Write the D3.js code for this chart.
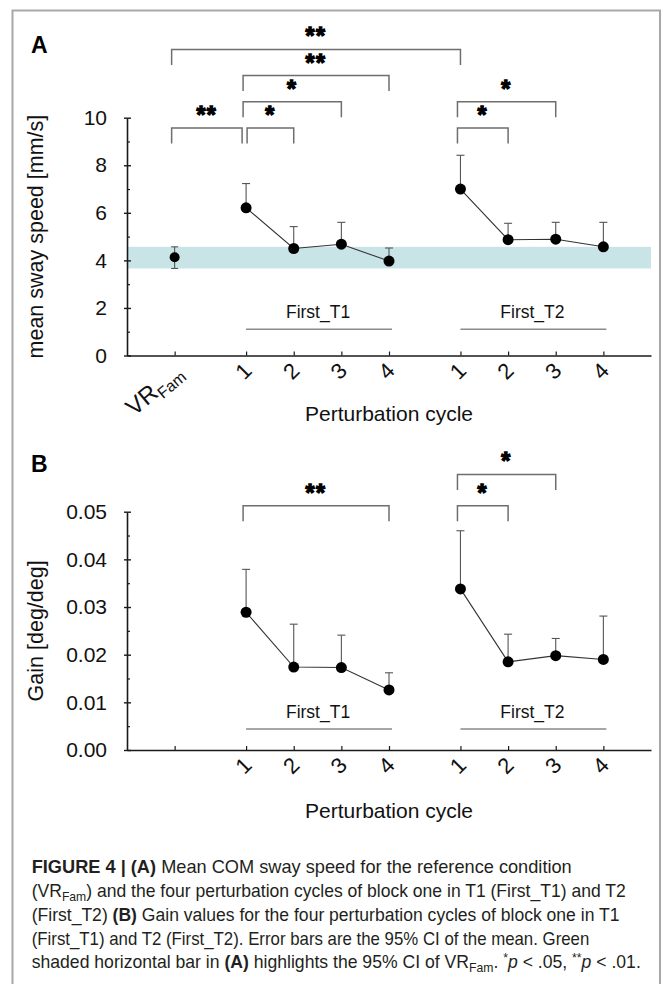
<!DOCTYPE html>
<html>
<head>
<meta charset="utf-8">
<script src="https://cdn.jsdelivr.net/npm/d3@7"></script>
<style>
  html, body { margin: 0; padding: 0; background: #fff; }
  svg { display: block; }
  text { font-family: "Liberation Sans", Arial, Helvetica, sans-serif; }
</style>
</head>
<body>
<svg id="fig" width="663" height="984"></svg>
<script>
// ---------------- DATA ----------------
const groups = ["First_T1", "First_T2"];
const cycleLabels = ["1", "2", "3", "4"];

// Panel A: mean sway speed [mm/s]
const vrFamMean = 4.13;
const vrFamCI = [3.66, 4.57];
const speedT1 = [6.21, 4.50, 4.68, 3.97];
const speedT1Upper = [7.23, 5.42, 5.60, 4.52];
const speedT2 = [7.00, 4.87, 4.89, 4.57];
const speedT2Upper = [8.42, 5.56, 5.60, 5.60];
const speedTicks = [0, 2, 4, 6, 8, 10];
const speedMinorTicks = [1, 3, 5, 7, 9];

// Panel B: gain [deg/deg]
const gainT1 = [0.0289, 0.0174, 0.0173, 0.0126];
const gainT1Upper = [0.0379, 0.0264, 0.0241, 0.0162];
const gainT2 = [0.0338, 0.0185, 0.0198, 0.0190];
const gainT2Upper = [0.0460, 0.0243, 0.0234, 0.0281];
const gainTicks = [0, 0.01, 0.02, 0.03, 0.04, 0.05];
const gainMinorTicks = [0.005, 0.015, 0.025, 0.035, 0.045];

// Significance brackets (tier = stacking level)
const sigA = [
  { a: "VR", b: "T1-1", tier: 0, label: "**", padR: 4 },
  { a: "T1-1", b: "T1-2", tier: 0, label: "*", padL: 4 },
  { a: "T1-1", b: "T1-3", tier: 1, label: "*" },
  { a: "T1-1", b: "T1-4", tier: 2, label: "**" },
  { a: "VR", b: "T2-1", tier: 3, label: "**" },
  { a: "T2-1", b: "T2-2", tier: 0, label: "*" },
  { a: "T2-1", b: "T2-3", tier: 1, label: "*" }
];
const sigB = [
  { a: "T1-1", b: "T1-4", tier: 0, label: "**" },
  { a: "T2-1", b: "T2-2", tier: 0, label: "*" },
  { a: "T2-1", b: "T2-3", tier: 1, label: "*" }
];

const captionLines = [
  [["FIGURE 4 | (A)", "b"], [" Mean COM sway speed for the reference condition"]],
  [["(VR"], ["Fam", "sub"], [") and the four perturbation cycles of block one in T1 (First_T1) and T2"]],
  [["(First_T2) "], ["(B)", "b"], [" Gain values for the four perturbation cycles of block one in T1"]],
  [["(First_T1) and T2 (First_T2). Error bars are the 95% CI of the mean. Green"]],
  [["shaded horizontal bar in "], ["(A)", "b"], [" highlights the 95% CI of VR"], ["Fam", "sub"], [". "],
   ["*", "sup"], ["p", "i"], [" < .05, "], ["**", "sup"], ["p", "i"], [" < .01."]]
];

// ---------------- LAYOUT ----------------
const svg = d3.select("#fig");

// slot positions for categories: VR at 1, each group separated by 1.5 units
const slot = { VR: 1 };
let s = 1;
groups.forEach((g, gi) => {
  cycleLabels.forEach((c, i) => {
    s += (i === 0 ? 1.5 : 1);
    slot[`T${gi + 1}-${c}`] = s;
  });
});
const slotMax = s + 1;

const x = d3.scaleLinear().domain([0, slotMax]).range([127, 651]);
const yA = d3.scaleLinear().domain([0, 10]).range([355.5, 117.7]);
const yB = d3.scaleLinear().domain([0, 0.05]).range([750, 511.7]);

// Border
svg.append("path")
  .attr("d", "M12.5,984 L12.5,10.5 L660,10.5 L660,984")
  .attr("fill", "none").attr("stroke", "#a8a8a8").attr("stroke-width", 2);

// Panel letters
svg.append("text").attr("x", 31).attr("y", 53).attr("font-size", 23).attr("font-weight", "bold").text("A");
svg.append("text").attr("x", 31).attr("y", 472).attr("font-size", 23).attr("font-weight", "bold").text("B");

function drawAxes(g, y, ticks, minor, fmt, title, titleY) {
  const axL = g.append("g").attr("transform", `translate(${x(0)},0)`)
    .call(d3.axisLeft(y).tickValues(ticks).tickSize(3).tickSizeOuter(0).tickPadding(17).tickFormat(fmt));
  axL.select(".domain").attr("stroke", "#1a1a1a").attr("stroke-width", 1.6);
  axL.selectAll(".tick line").attr("stroke", "#1a1a1a").attr("stroke-width", 1.4);
  axL.selectAll(".tick text").attr("font-size", 21).attr("fill", "#111")
    .attr("font-family", '"Liberation Sans", Arial, sans-serif');
  const axI = g.append("g").attr("transform", `translate(${x(0)},0)`)
    .call(d3.axisLeft(y).tickValues(ticks).tickSize(-4).tickSizeOuter(0).tickFormat(""));
  axI.select(".domain").remove();
  axI.selectAll(".tick line").attr("stroke", "#1a1a1a").attr("stroke-width", 1.4);
  const axM = g.append("g").attr("transform", `translate(${x(0)},0)`)
    .call(d3.axisLeft(y).tickValues(minor).tickSize(-3).tickSizeOuter(0).tickFormat(""));
  axM.select(".domain").remove();
  axM.selectAll(".tick line").attr("stroke", "#1a1a1a").attr("stroke-width", 1.2);

  const slots = Object.values(slot);
  const axX = g.append("g").attr("transform", `translate(0,${y(0)})`)
    .call(d3.axisBottom(x).tickValues(slots).tickSize(-4).tickSizeOuter(0).tickFormat(""));
  axX.select(".domain").attr("stroke", "#1a1a1a").attr("stroke-width", 1.6);
  axX.selectAll(".tick line").attr("stroke", "#1a1a1a").attr("stroke-width", 1.2);

  g.append("text")
    .attr("transform", `translate(43,${(y.range()[0] + y.range()[1]) / 2}) rotate(-90)`)
    .attr("text-anchor", "middle").attr("font-size", 21.5).attr("fill", "#111")
    .text(title);
  g.append("text").attr("x", 389).attr("y", titleY)
    .attr("text-anchor", "middle").attr("font-size", 21).attr("fill", "#111")
    .text("Perturbation cycle");
}

function drawCycleLabels(g, y, includeVR) {
  const keys = Object.keys(slot).filter(k => k !== "VR");
  keys.forEach(k => {
    const lab = k.split("-")[1];
    g.append("text")
      .attr("transform", `translate(${x(slot[k]) + 1.5},${y(0) + 11}) rotate(-45)`)
      .attr("text-anchor", "end").attr("dy", "0.36em")
      .attr("font-size", 22).attr("fill", "#111").text(lab);
  });
  if (includeVR) {
    const t = g.append("text")
      .attr("transform", `translate(${x(slot.VR) + 6},${y(0) + 15}) rotate(-40)`)
      .attr("text-anchor", "end").attr("dy", "0.35em").attr("fill", "#111");
    t.append("tspan").attr("font-size", 24).text("VR");
    t.append("tspan").attr("font-size", 16).attr("dy", 5).text("Fam");
  }
}

function drawGroupLines(g, y, lineV, labelOffset) {
  groups.forEach((grp, gi) => {
    const x1 = x(slot[`T${gi + 1}-1`]), x2 = x(slot[`T${gi + 1}-4`]) + 3;
    g.append("line").attr("x1", x1).attr("x2", x2).attr("y1", y(lineV)).attr("y2", y(lineV))
      .attr("stroke", "#8a8a8a").attr("stroke-width", 1.5);
    g.append("text").attr("x", (x1 + x2) / 2 - 1).attr("y", y(lineV) - labelOffset)
      .attr("text-anchor", "middle").attr("font-size", 17.5).attr("fill", "#111").text(grp);
  });
}

function drawSeries(g, y, vals, upper, gi) {
  const pts = vals.map((v, i) => ({ k: `T${gi}-${i + 1}`, v, u: upper[i] }));
  pts.forEach(p => {
    const xx = x(slot[p.k]);
    g.append("line").attr("x1", xx).attr("x2", xx).attr("y1", y(p.v)).attr("y2", y(p.u))
      .attr("stroke", "#555").attr("stroke-width", 1.1);
    g.append("line").attr("x1", xx - 4).attr("x2", xx + 4).attr("y1", y(p.u)).attr("y2", y(p.u))
      .attr("stroke", "#555").attr("stroke-width", 1.1);
  });
  g.append("path").datum(pts)
    .attr("d", d3.line().x(p => x(slot[p.k])).y(p => y(p.v)))
    .attr("fill", "none").attr("stroke", "#333").attr("stroke-width", 1.1);
  g.selectAll(null).data(pts).enter().append("circle")
    .attr("cx", p => x(slot[p.k])).attr("cy", p => y(p.v)).attr("r", 5.5).attr("fill", "#000");
}

function drawBrackets(g, list, baseY, step, leg) {
  list.forEach(b => {
    const x1 = x(slot[b.a]) - 3 + (b.padL || 0);
    const x2 = x(slot[b.b]) + (b.padR ? -b.padR : 0);
    const yy = baseY - b.tier * step;
    g.append("path")
      .attr("d", `M${x1},${yy + leg} L${x1},${yy} L${x2},${yy} L${x2},${yy + leg}`)
      .attr("fill", "none").attr("stroke", "#6e6e6e").attr("stroke-width", 1.5);
    g.append("text").attr("x", (x1 + x2) / 2).attr("y", yy - 5)
      .attr("text-anchor", "middle").attr("font-size", 23).attr("font-weight", "bold")
      .attr("letter-spacing", 1.5)
      .attr("fill", "#000").attr("stroke", "#000").attr("stroke-width", 1.3)
      .attr("stroke-linejoin", "miter")
      .text(b.label);
  });
}

// ---------------- PANEL A ----------------
const gA = svg.append("g");
gA.append("rect").attr("x", x(0)).attr("width", x(slotMax) - x(0))
  .attr("y", yA(vrFamCI[1])).attr("height", yA(vrFamCI[0]) - yA(vrFamCI[1]))
  .attr("fill", "#c8e4e6");
drawAxes(gA, yA, speedTicks, speedMinorTicks, d3.format("d"), "mean sway speed [mm/s]", 420.5);
drawCycleLabels(gA, yA, true);
drawGroupLines(gA, yA, 1.1, 11);
{
  const xx = x(slot.VR);
  gA.append("line").attr("x1", xx).attr("x2", xx).attr("y1", yA(vrFamCI[0])).attr("y2", yA(vrFamCI[1]))
    .attr("stroke", "#555").attr("stroke-width", 1.1);
  vrFamCI.forEach(v => gA.append("line").attr("x1", xx - 3.5).attr("x2", xx + 3.5)
    .attr("y1", yA(v)).attr("y2", yA(v)).attr("stroke", "#555").attr("stroke-width", 1.1));
  gA.append("circle").attr("cx", xx).attr("cy", yA(vrFamMean)).attr("r", 5).attr("fill", "#000");
}
drawSeries(gA, yA, speedT1, speedT1Upper, 1);
drawSeries(gA, yA, speedT2, speedT2Upper, 2);
drawBrackets(gA, sigA, 128, 26.2, 15.5);

// ---------------- PANEL B ----------------
const gB = svg.append("g");
drawAxes(gB, yB, gainTicks, gainMinorTicks, d3.format(".2f"), "Gain [deg/deg]", 818);
drawCycleLabels(gB, yB, false);
drawGroupLines(gB, yB, 0.0044, 11);
drawSeries(gB, yB, gainT1, gainT1Upper, 1);
drawSeries(gB, yB, gainT2, gainT2Upper, 2);
drawBrackets(gB, sigB, 505.7, 31.3, 15.5);

// ---------------- CAPTION ----------------
const capStart = 31.7;
const capEnds = [572, 626, 620, 590, 641];
const capBase = [873, 897, 921, 944.5, 968];
captionLines.forEach((segs, li) => {
  const t = svg.append("text").attr("x", 0).attr("y", 0).attr("font-size", 18).attr("fill", "#231f20");
  let shift = 0;
  segs.forEach(([txt, st]) => {
    const ts = t.append("tspan").text(txt);
    let target = 0;
    if (st === "b") ts.attr("font-weight", "bold");
    if (st === "i") ts.attr("font-style", "italic");
    if (st === "sub") { ts.attr("font-size", 12.5); target = 4; }
    if (st === "sup") { ts.attr("font-size", 12.5); target = -6; }
    if (target !== shift) { ts.attr("dy", target - shift); shift = target; }
  });
  const w = t.node().getComputedTextLength();
  const sx = (capEnds[li] - capStart) / w;
  t.attr("transform", `translate(${capStart},${capBase[li]}) scale(${sx},1)`);
});
</script>
</body>
</html>
